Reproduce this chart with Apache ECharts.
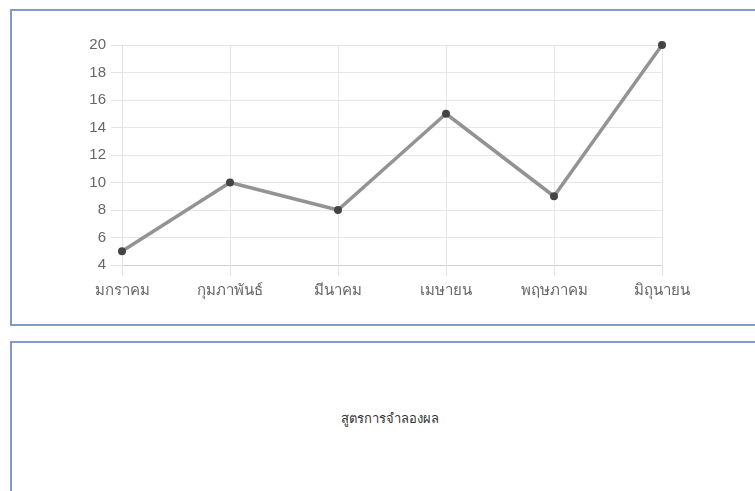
<!DOCTYPE html>
<html>
<head>
<meta charset="utf-8">
<script src="https://cdn.jsdelivr.net/npm/echarts@6/dist/echarts.min.js"></script>
<style>
  html, body { margin: 0; padding: 0; background: #fff; overflow: hidden; }
  .panel { position: absolute; box-sizing: border-box; border: 2px solid #8299c9; background: #fff; }
  #top { left: 10px; top: 9px; width: 760px; height: 317px; }
  #bottom { left: 10px; top: 341px; width: 760px; height: 200px; }
  #caption { position: absolute; left: 10px; width: 760px; top: 408px; text-align: center;
    font-family: "Liberation Sans", "Noto Sans", sans-serif; font-size: 13px; color: #333; }
  #main { position: absolute; left: 0; top: 0; width: 755px; height: 491px; }
</style>
</head>
<body>
<div class="panel" id="top"></div>
<div class="panel" id="bottom"></div>
<div id="caption">สูตรการจำลองผล</div>
<div id="main"></div>
<script>
var months = ['มกราคม', 'กุมภาพันธ์', 'มีนาคม', 'เมษายน', 'พฤษภาคม', 'มิถุนายน']
var values = [5, 10, 8, 15, 9, 20]
var yMin = 4
var yMax = 20
var yStep = 2

var chart = echarts.init(document.getElementById('main'))
chart.setOption({
  animation: false,
  textStyle: { fontFamily: 'Liberation Sans, Noto Sans, sans-serif' },
  grid: { left: 122, right: 93, top: 45, bottom: 226, containLabel: false },
  xAxis: {
    type: 'category',
    boundaryGap: false,
    data: months,
    axisLine: { lineStyle: { color: '#d0d0d0' } },
    axisTick: { show: true, length: 11, alignWithLabel: true, lineStyle: { color: '#e2e2e2' } },
    axisLabel: { color: '#666', fontSize: 15, margin: 18 },
    splitLine: { show: true, lineStyle: { color: '#e6e6e6' } }
  },
  yAxis: {
    type: 'value',
    min: yMin,
    max: yMax,
    interval: yStep,
    axisLine: { show: true, lineStyle: { color: '#e2e2e2' } },
    axisTick: { show: true, length: 11, lineStyle: { color: '#e2e2e2' } },
    axisLabel: { color: '#666', fontSize: 15, margin: 16 },
    splitLine: { show: true, lineStyle: { color: '#e6e6e6' } }
  },
  series: [
    {
      type: 'line',
      data: values,
      symbol: 'circle',
      symbolSize: 8,
      lineStyle: { color: '#939393', width: 3.5 },
      itemStyle: { color: '#444' }
    }
  ]
})
</script>
</body>
</html>
